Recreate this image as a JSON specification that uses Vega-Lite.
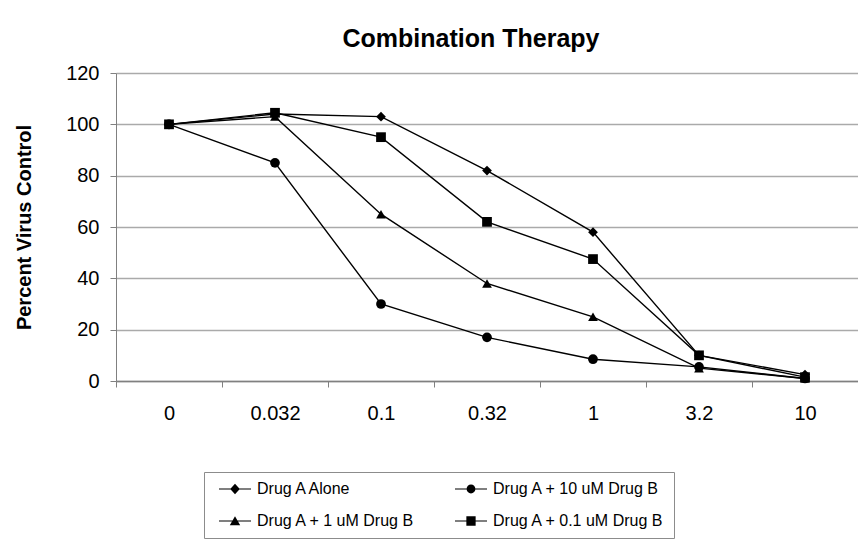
{
  "$schema": "https://vega.github.io/schema/vega-lite/v6.json",
  "width": 742,
  "height": 308,
  "autosize": "none",
  "padding": {"left": 116, "top": 73, "right": 0, "bottom": 162},
  "background": "white",
  "config": {
    "view": {"stroke": null},
    "font": "Liberation Sans"
  },
  "title": {
    "text": "Combination Therapy",
    "font": "Liberation Sans",
    "fontSize": 25,
    "fontWeight": "bold",
    "color": "black",
    "anchor": "middle",
    "frame": "group",
    "dx": -16,
    "dy": 34,
    "baseline": "alphabetic",
    "offset": 25
  },
  "data": {
    "values": [
      {"series": "Drug A Alone", "dose": "0", "value": 100},
      {"series": "Drug A Alone", "dose": "0.032", "value": 104},
      {"series": "Drug A Alone", "dose": "0.1", "value": 103},
      {"series": "Drug A Alone", "dose": "0.32", "value": 82},
      {"series": "Drug A Alone", "dose": "1", "value": 58},
      {"series": "Drug A Alone", "dose": "3.2", "value": 10},
      {"series": "Drug A Alone", "dose": "10", "value": 2.5},
      {"series": "Drug A + 10 uM Drug B", "dose": "0", "value": 100},
      {"series": "Drug A + 10 uM Drug B", "dose": "0.032", "value": 85},
      {"series": "Drug A + 10 uM Drug B", "dose": "0.1", "value": 30},
      {"series": "Drug A + 10 uM Drug B", "dose": "0.32", "value": 17},
      {"series": "Drug A + 10 uM Drug B", "dose": "1", "value": 8.5},
      {"series": "Drug A + 10 uM Drug B", "dose": "3.2", "value": 5.5},
      {"series": "Drug A + 10 uM Drug B", "dose": "10", "value": 1},
      {"series": "Drug A + 1 uM Drug B", "dose": "0", "value": 100},
      {"series": "Drug A + 1 uM Drug B", "dose": "0.032", "value": 103},
      {"series": "Drug A + 1 uM Drug B", "dose": "0.1", "value": 65},
      {"series": "Drug A + 1 uM Drug B", "dose": "0.32", "value": 38},
      {"series": "Drug A + 1 uM Drug B", "dose": "1", "value": 25},
      {"series": "Drug A + 1 uM Drug B", "dose": "3.2", "value": 5},
      {"series": "Drug A + 1 uM Drug B", "dose": "10", "value": 1},
      {"series": "Drug A + 0.1 uM Drug B", "dose": "0", "value": 100},
      {"series": "Drug A + 0.1 uM Drug B", "dose": "0.032", "value": 104.5},
      {"series": "Drug A + 0.1 uM Drug B", "dose": "0.1", "value": 95},
      {"series": "Drug A + 0.1 uM Drug B", "dose": "0.32", "value": 62},
      {"series": "Drug A + 0.1 uM Drug B", "dose": "1", "value": 47.5},
      {"series": "Drug A + 0.1 uM Drug B", "dose": "3.2", "value": 10},
      {"series": "Drug A + 0.1 uM Drug B", "dose": "10", "value": 1.5}
    ]
  },
  "encoding": {
    "x": {
      "field": "dose",
      "type": "ordinal",
      "sort": ["0", "0.032", "0.1", "0.32", "1", "3.2", "10"],
      "scale": {"type": "band", "paddingInner": 0, "paddingOuter": 0},
      "axis": {
        "title": null,
        "labelAngle": 0,
        "labelFont": "Liberation Sans",
        "labelFontSize": 20,
        "labelColor": "black",
        "labelPadding": 16,
        "tickBand": "extent",
        "tickSize": 6,
        "tickColor": "#808080",
        "domainColor": "#808080",
        "domainWidth": 1.5,
        "grid": false
      }
    },
    "y": {
      "field": "value",
      "type": "quantitative",
      "scale": {"domain": [0, 120], "nice": false},
      "axis": {
        "title": "Percent Virus Control",
        "titleFont": "Liberation Sans",
        "titleFontSize": 20,
        "titleFontWeight": "bold",
        "titleColor": "black",
        "titlePadding": 31,
        "values": [0, 20, 40, 60, 80, 100, 120],
        "labelFont": "Liberation Sans",
        "labelFontSize": 20,
        "labelColor": "black",
        "labelPadding": 11,
        "tickSize": 6,
        "tickColor": "#808080",
        "domainColor": "#808080",
        "grid": true,
        "gridColor": "#aaaaaa",
        "gridWidth": 1.6
      }
    }
  },
  "layer": [
    {
      "mark": {"type": "line", "color": "black", "strokeWidth": 1.4},
      "encoding": {"detail": {"field": "series"}}
    },
    {
      "mark": {"type": "point", "filled": true, "color": "black", "opacity": 1, "size": 95},
      "encoding": {
        "shape": {
          "field": "series",
          "scale": {
            "domain": ["Drug A Alone", "Drug A + 10 uM Drug B", "Drug A + 1 uM Drug B", "Drug A + 0.1 uM Drug B"],
            "range": ["diamond", "circle", "triangle-up", "square"]
          },
          "legend": null
        }
      }
    },
    {
      "mark": {"type": "point", "filled": true, "color": "black", "opacity": 0, "size": 256},
      "encoding": {
        "shape": {
          "field": "series",
          "scale": {
            "domain": ["Drug A Alone", "Drug A + 1 uM Drug B", "Drug A + 10 uM Drug B", "Drug A + 0.1 uM Drug B"],
            "range": [
              "M-0.25,-0.07H3.75V0.07H-0.25Z M1.75,-0.66L2.35,0L1.75,0.66L1.15,0Z",
              "M-0.25,-0.07H3.75V0.07H-0.25Z M1.75,-0.58L2.4,0.52L1.1,0.52Z",
              "M-0.25,-0.07H3.75V0.07H-0.25Z M2.3,0A0.55,0.55 0 1,1 1.2,0A0.55,0.55 0 1,1 2.3,0Z",
              "M-0.25,-0.07H3.75V0.07H-0.25Z M1.17,-0.58H2.33V0.58H1.17Z"
            ]
          },
          "legend": {
            "title": null,
            "orient": "none",
            "legendX": 88,
            "legendY": 399,
            "columns": 2,
            "symbolSize": 256,
            "labelFont": "Liberation Sans",
            "labelFontSize": 16,
            "labelColor": "black",
            "labelOffset": 28,
            "labelLimit": 300,
            "padding": 9,
            "rowPadding": 16,
            "columnPadding": 34,
            "strokeColor": "#8c8c8c",
            "fillColor": "white",
            "symbolFillColor": "black",
            "symbolStrokeWidth": 0,
            "symbolOpacity": 1
          }
        }
      }
    }
  ],
  "resolve": {"scale": {"shape": "independent"}, "legend": {"shape": "independent"}}
}
